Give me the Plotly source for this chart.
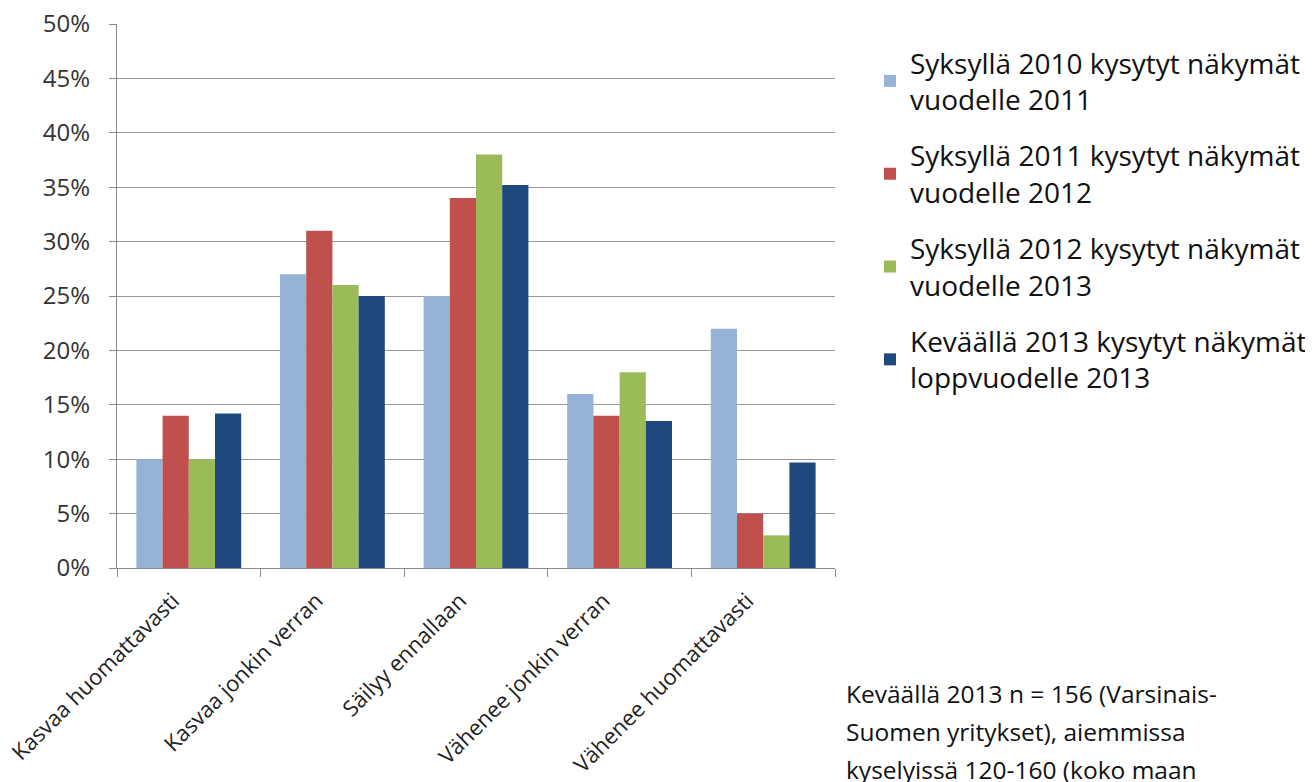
import plotly.graph_objects as go

categories = ["Kasvaa huomattavasti", "Kasvaa jonkin verran", "Säilyy ennallaan",
              "Vähenee jonkin verran", "Vähenee huomattavasti"]
series_names = ["Syksyllä 2010 kysytyt näkymät<br>vuodelle 2011",
                "Syksyllä 2011 kysytyt näkymät<br>vuodelle 2012",
                "Syksyllä 2012 kysytyt näkymät<br>vuodelle 2013",
                "Keväällä 2013 kysytyt näkymät<br>loppvuodelle 2013"]
s2010 = [10, 27, 25, 16, 22]
s2011 = [14, 31, 34, 14, 5]
s2012 = [10, 26, 38, 18, 3]
s2013 = [14.2, 25, 35.2, 13.5, 9.7]
colors = ["#95B3D7", "#C0504D", "#9BBB59", "#1F497D"]
ytick_vals = [0, 5, 10, 15, 20, 25, 30, 35, 40, 45, 50]
ytick_text = [f"{v}%" for v in ytick_vals]
note_lines = ["Keväällä 2013 n = 156 (Varsinais-",
              "Suomen yritykset), aiemmissa",
              "kyselyissä 120-160 (koko maan"]

FONT = "Open Sans, Lato, sans-serif"
PLOT_H = 544.0

fig = go.Figure()
for i, (name, vals) in enumerate(zip(series_names, [s2010, s2011, s2012, s2013])):
    fig.add_trace(go.Bar(x=categories, y=vals, name=name, marker_color=colors[i],
                         marker_line_width=0, legendgroup=f"g{i}"))

annotations = []
for k, line in enumerate(note_lines):
    annotations.append(dict(text=line, x=1.0124, y=-(693 - 568 + 38 * k) / PLOT_H,
                            xref="paper", yref="paper", xanchor="left", yanchor="middle",
                            align="left", showarrow=False,
                            font=dict(size=24.5, color="#111", family=FONT)))

fig.update_layout(
    width=1313, height=782,
    margin=dict(l=109, r=486, t=16, b=222, autoexpand=False),
    paper_bgcolor="white", plot_bgcolor="white",
    barmode="group", bargap=0.27, bargroupgap=0,
    font=dict(family=FONT, color="#222"),
    showlegend=True,
    legend=dict(x=0.6565, y=0.9616, xref="container", yref="container",
                xanchor="left", yanchor="top",
                font=dict(size=28, color="#111", family=FONT),
                tracegroupgap=17),
    annotations=annotations,
)
fig.update_yaxes(range=[0, 50], tickvals=ytick_vals, ticktext=ytick_text,
                 automargin=False,
                 showgrid=True, gridcolor="#999", gridwidth=1.2,
                 showline=True, linecolor="#888", linewidth=1.2,
                 ticks="outside", ticklen=7, tickcolor="#888", ticklabelstandoff=14,
                 ticklabeloverflow="allow",
                 tickfont=dict(size=24, color="#333", family=FONT), zeroline=False)
fig.update_xaxes(tickangle=-45, automargin=False,
                 showline=True, linecolor="#888", linewidth=1.2,
                 ticks="outside", ticklen=8, tickcolor="#888", tickson="boundaries",
                 ticklabelstandoff=10, ticklabelshift=-16,
                 tickfont=dict(size=22, color="#222", family=FONT))

fig.write_html("out.html")
